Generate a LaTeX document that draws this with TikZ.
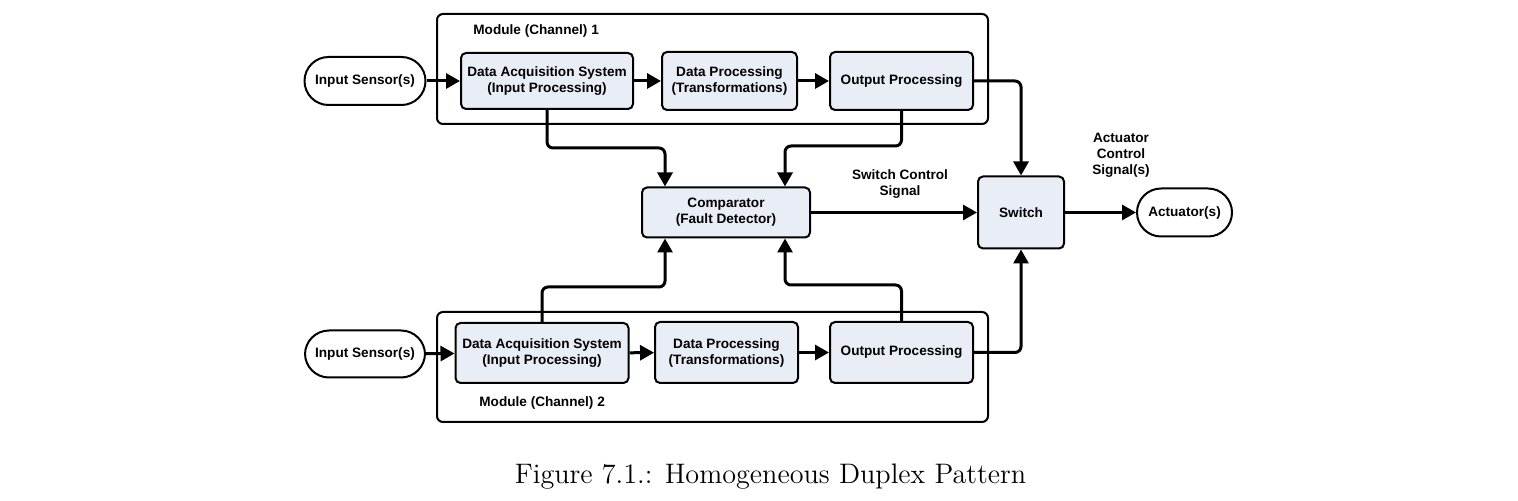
\documentclass[tikz,border=0pt]{standalone}
\usepackage{fontspec}
\usetikzlibrary{arrows.meta,calc}
\newfontfamily\arialfont{Liberation Sans}
\definecolor{boxfill}{RGB}{233,237,246}
\begin{document}
\begin{tikzpicture}[x=0.5pt,y=-0.5pt,
  lbl/.style={font=\arialfont\bfseries\fontsize{6.8}{8}\selectfont,align=center,inner sep=0pt},
  blk/.style={lbl,draw,line width=1pt,fill=boxfill,rounded corners=2.5pt},
  term/.style={lbl,draw,line width=1pt,fill=white,rounded corners=12pt},
  module/.style={draw,line width=1pt,rounded corners=3pt,inner sep=0pt},
  arr/.style={line width=1.5pt,rounded corners=3pt,-{Triangle[length=7pt,width=7.5pt]}}]
\useasboundingbox (0,0) rectangle (1518,501);
% modules
\node[module,minimum width=275.5pt,minimum height=55pt] (mod1) at (712.5,69) {};
\node[module,minimum width=275.5pt,minimum height=55pt] (mod2) at (712.5,367) {};
\node[lbl,anchor=west] (mod1l) at (473,31) {Module (Channel) 1};
\node[lbl,anchor=west] (mod2l) at (479,403) {Module (Channel) 2};
% channel 1
\node[term,minimum width=60.5pt,minimum height=24pt] (in1) at (365,81) {Input Sensor(s)};
\node[blk,minimum width=86pt,minimum height=28pt] (das1) at (547,81) {Data Acquisition System\\(Input Processing)};
\node[blk,minimum width=67.5pt,minimum height=29pt] (dp1) at (729.5,81) {Data Processing\\(Transformations)};
\node[blk,minimum width=71.5pt,minimum height=29pt] (op1) at (901.5,81) {Output Processing};
% channel 2
\node[term,minimum width=60pt,minimum height=23.5pt] (in2) at (365,354) {Input Sensor(s)};
\node[blk,minimum width=86.5pt,minimum height=30pt] (das2) at (542,353) {Data Acquisition System\\(Input Processing)};
\node[blk,minimum width=71.5pt,minimum height=30.5pt] (dp2) at (726.5,352.5) {Data Processing\\(Transformations)};
\node[blk,minimum width=71.5pt,minimum height=30.5pt] (op2) at (901.5,352.5) {Output Processing};
% middle
\node[blk,minimum width=84pt,minimum height=25pt] (cmp) at (726,212.5) {Comparator\\(Fault Detector)};
\node[blk,minimum width=43pt,minimum height=36pt] (sw) at (1021,212.5) {Switch};
\node[term,minimum width=47.5pt,minimum height=24pt] (act) at (1184.5,212.5) {Actuator(s)};
\node[lbl] (scs) at (900,184) {Switch Control\\Signal};
\node[lbl] (acs) at (1121,155) {Actuator\\Control\\Signal(s)};
% caption
\node[font=\fontsize{14.1}{16}\selectfont,inner sep=0pt] (cap) at (770.5,477) {Figure 7.1.: Homogeneous Duplex Pattern};
% helper coordinates
\coordinate (h1) at (0,148);
\coordinate (h2) at (0,146);
\coordinate (h3) at (0,287);
\coordinate (h4) at (0,285);
\coordinate (cL) at (665,0);
\coordinate (cR) at (785,0);
% connectors
\draw[arr] (in1) -- (das1);
\draw[arr] (das1) -- (dp1);
\draw[arr] (dp1) -- (op1);
\draw[arr] (op1) -| (sw);
\draw[arr] (in2) -- (das2);
\draw[arr] (das2) -- (dp2);
\draw[arr] (dp2) -- (op2);
\draw[arr] (op2) -| (sw);
\draw[arr] (das1.south) |- (h1 -| cL) -- (cL |- cmp.north);
\draw[arr] (op1.south) |- (h2 -| cR) -- (cR |- cmp.north);
\draw[arr] (das2.north) |- (h3 -| cL) -- (cL |- cmp.south);
\draw[arr] (op2.north) |- (h4 -| cR) -- (cR |- cmp.south);
\draw[arr] (cmp) -- (sw);
\draw[arr] (sw) -- (act);
\end{tikzpicture}
\end{document}
